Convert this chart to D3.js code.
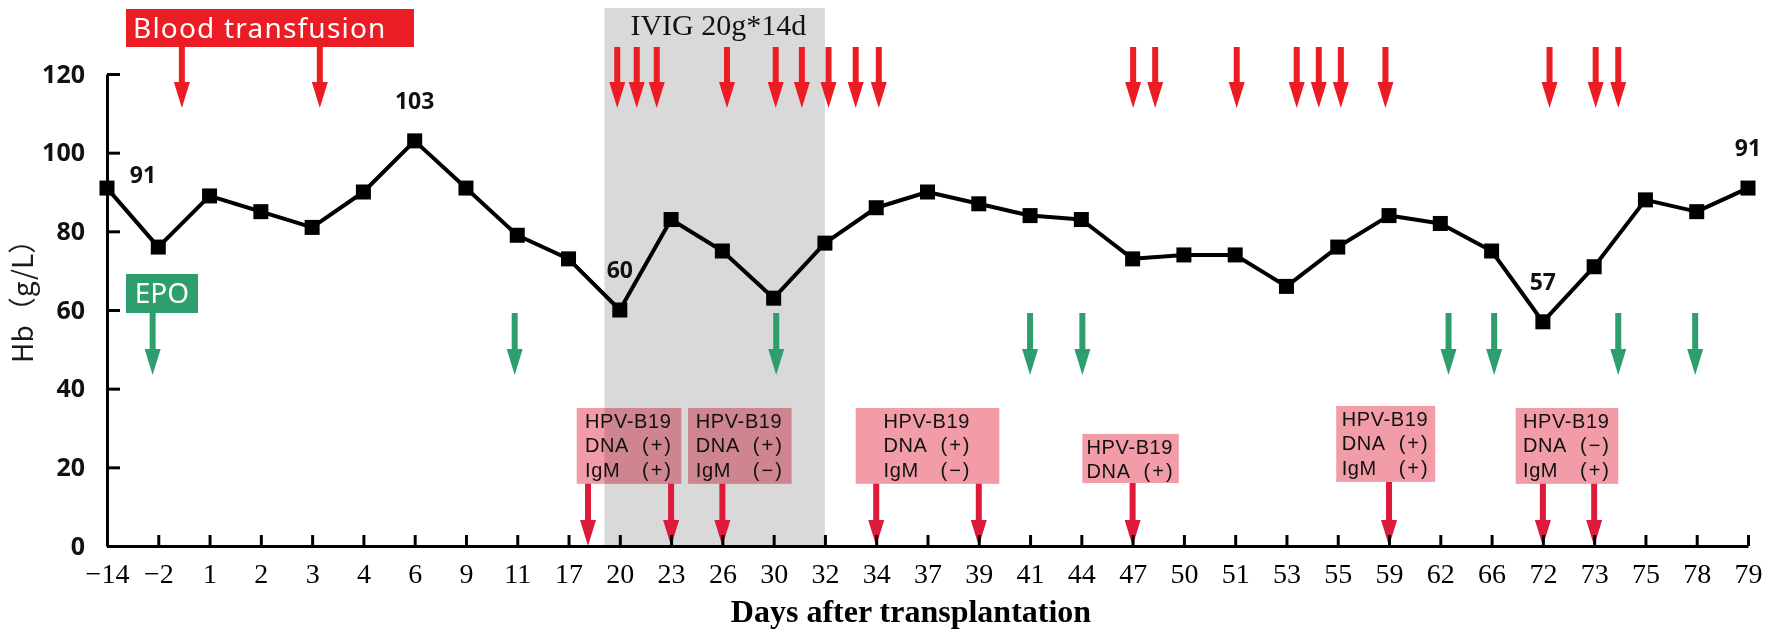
<!DOCTYPE html>
<html><head><meta charset="utf-8">
<script src="https://cdn.jsdelivr.net/npm/d3@7"></script>
<style>body{margin:0;background:#fff}</style>
</head><body>
<svg id="chart" width="1772" height="640"></svg>
<script>
// ---- data ----
const days = [-14,-2,1,2,3,4,6,9,11,17,20,23,26,30,32,34,37,39,41,44,47,50,51,53,55,59,62,66,72,73,75,78,79];
const hb = [91,76,89,85,81,90,103,91,79,73,60,83,75,63,77,86,90,87,84,83,73,74,74,66,76,84,82,75,57,71,88,85,91];
const labelledPoints = [0,6,10,28,32];
const yTicks = [0,20,40,60,80,100,120];
// annotation positions, in category-index units along the x axis
const transfusionAt = [1.46,4.15,9.95,10.33,10.72,12.09,13.04,13.55,14.07,14.6,15.05,20.01,20.44,22.03,23.2,23.63,24.06,24.93,28.13,29.03,29.47];
const epoAt = [0.89,7.95,13.05,18.0,19.02,26.16,27.05,29.47,30.97];
const hpvTestAt = [9.38,11,12,15,17,20,25,28,29];
const ivigSpan = [9.7,14];
const ivigLabel = "IVIG 20g*14d";
// HPV-B19 result boxes
const boxFrom = [9.16,11.33,14.6,19.02,23.97,27.47];
const boxTo = [11.2,13.35,17.4,20.9,25.9,29.47];
const boxTop = [35.1,35.1,35.1,28.5,35.6,35.1];
const boxBottom = [15.8,15.8,15.8,16.0,16.3,15.8];
const boxDNA = ["+","+","+","+","+","−"];
const boxIgM = ["+","−","−",null,"+","+"];

// ---- chart ----
const svg = d3.select("#chart");
const x = d3.scalePoint().domain(days).range([107,1748]);
const xi = d3.scaleLinear().domain([0,days.length-1]).range([107,1748]);
const y = d3.scaleLinear().domain([0,120]).range([546,74]);

const RED="#ec1c24", GREEN="#2f9e6f", CRIMSON="#dc1a3c", PINK="#f29ca8";

function arrow(g,cx,y0,y1,color){
  const hl=26, hw=8, sw=3;
  g.append("path")
   .attr("d",`M${cx-sw},${y0}V${y1-hl}H${cx-hw}L${cx},${y1}L${cx+hw},${y1-hl}H${cx+sw}V${y0}Z`)
   .attr("fill",color);
}

// IVIG shaded period
svg.append("rect")
  .attr("x",xi(ivigSpan[0])).attr("width",xi(ivigSpan[1])-xi(ivigSpan[0]))
  .attr("y",8).attr("height",y(0)-8).attr("fill","#d9d9d9");
svg.append("text")
  .attr("x",xi(ivigSpan[0])+26).attr("y",35)
  .attr("font-family","Liberation Serif").attr("font-size",30)
  .attr("fill","#111").text(ivigLabel);

// Blood transfusion legend + arrows
svg.append("rect").attr("x",126).attr("y",9).attr("width",288).attr("height",38).attr("fill",RED);
svg.append("text").attr("x",133).attr("y",38).attr("font-family","Noto Sans").attr("font-size",28)
  .attr("letter-spacing",1.2).attr("fill","#fff").text("Blood transfusion");
const gT = svg.append("g");
transfusionAt.forEach(p=>arrow(gT,xi(p),47,108,RED));

// EPO legend + arrows
svg.append("rect").attr("x",126).attr("y",274).attr("width",72).attr("height",39).attr("fill",GREEN);
svg.append("text").attr("x",162).attr("y",303).attr("text-anchor","middle").attr("font-family","Noto Sans")
  .attr("font-size",28).attr("fill","#fff").text("EPO");
const gE = svg.append("g");
epoAt.forEach(p=>arrow(gE,xi(p),313,375,GREEN));

// HPV test arrows
const gH = svg.append("g");
hpvTestAt.forEach(p=>{
  let k = boxFrom.findIndex((f,i)=>p>=f-0.05 && p<=boxTo[i]+0.05);
  const y0 = k>=0 ? y(boxBottom[k]) : y(16);
  arrow(gH,xi(p),y0,y(0),CRIMSON);
});

// HPV boxes
const gB = svg.append("g");
boxFrom.forEach((f,i)=>{
  const x0=xi(f), x1=xi(boxTo[i]), t=y(boxTop[i]), b=y(boxBottom[i]);
  gB.append("rect").attr("x",x0).attr("y",t).attr("width",x1-x0).attr("height",b-t)
    .attr("fill",PINK).style("mix-blend-mode","multiply");
  const tl = (x0+x1)/2 - 44;
  const lines = [["HPV-B19",null],["DNA",boxDNA[i]]];
  if(boxIgM[i]) lines.push(["IgM",boxIgM[i]]);
  lines.forEach((ln,j)=>{
    const tx = gB.append("text").attr("y",t+20+j*24.5)
      .attr("font-family","Liberation Sans").attr("font-size",20)
      .attr("fill","#111");
    tx.append("tspan").attr("x",tl).attr("letter-spacing",0.6).text(ln[0]);
    if(ln[1]) tx.append("tspan").attr("x",tl+57).attr("letter-spacing",2).text("("+ln[1]+")");
  });
});

// axes
const xAxis = d3.axisBottom(x).tickSize(-11).tickSizeOuter(0).tickPadding(17).tickFormat(d3.format("d"));
const gx = svg.append("g").attr("transform",`translate(0,${y(0)})`).call(xAxis);
gx.selectAll("text").attr("font-family","Liberation Serif").attr("font-size",28).attr("fill","#000");
gx.selectAll("line,path").attr("stroke","#000").attr("stroke-width",3);

const yAxis = d3.axisLeft(y).tickValues(yTicks).tickSize(-13).tickSizeOuter(0).tickPadding(22);
const gy = svg.append("g").attr("transform",`translate(107,0)`).call(yAxis);
gy.selectAll("text").attr("font-family","Noto Sans").attr("font-weight","bold").attr("font-size",25).attr("fill","#111");
gy.selectAll("line,path").attr("stroke","#000").attr("stroke-width",3);

svg.append("text").attr("transform","translate(33,363) rotate(-90)")
  .attr("font-family","Noto Sans CJK SC").attr("font-size",28).attr("fill","#1a1a1a")
  .text("Hb（g/L）");
svg.append("text").attr("x",911).attr("y",622).attr("text-anchor","middle")
  .attr("font-family","Liberation Serif").attr("font-weight","bold").attr("font-size",32)
  .attr("fill","#000").text("Days after transplantation");

// Hb line + markers
const line = d3.line().x((d,i)=>x(days[i])).y(d=>y(d));
svg.append("path").datum(hb).attr("d",line).attr("fill","none").attr("stroke","#000")
  .attr("stroke-width",4).attr("stroke-linejoin","round");
svg.append("g").selectAll("rect").data(hb).join("rect")
  .attr("x",(d,i)=>x(days[i])-7.5).attr("y",d=>y(d)-7.5).attr("width",15).attr("height",15).attr("fill","#000");

// value labels
svg.append("g").selectAll("text").data(labelledPoints).join("text")
  .attr("x",i=> x(days[i]) + (i===0?36:0))
  .attr("y",i=> y(hb[i]) + (i===0?-5:-32))
  .attr("text-anchor","middle").attr("font-family","Noto Sans").attr("font-weight","bold")
  .attr("font-size",23).attr("fill","#111").text(i=>hb[i]);
</script>
</body></html>
